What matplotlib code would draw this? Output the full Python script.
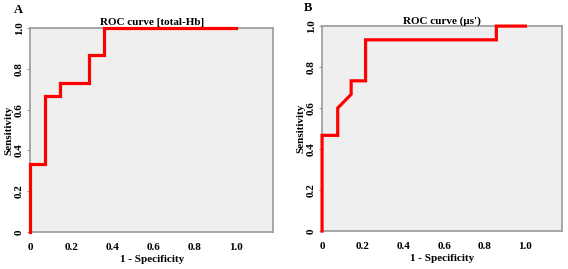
import matplotlib
matplotlib.use("Agg")
import matplotlib.pyplot as plt

plt.rcParams['font.family'] = ['Liberation Serif', 'DejaVu Serif']
plt.rcParams['font.weight'] = 'bold'

# ROC curve A : total-Hb
fprA = [0, 0, 0.071, 0.071, 0.143, 0.143, 0.286, 0.286, 0.357, 0.357, 1.0]
tprA = [0, 0.333, 0.333, 0.667, 0.667, 0.733, 0.733, 0.867, 0.867, 1.0, 1.0]

# ROC curve B : mu_s'
fprB = [0, 0, 0.077, 0.077, 0.143, 0.143, 0.214, 0.214, 0.857, 0.857, 1.0]
tprB = [0, 0.467, 0.467, 0.6, 0.667, 0.733, 0.733, 0.933, 0.933, 1.0, 1.0]

ticks = [0, 0.2, 0.4, 0.6, 0.8, 1.0]
tickLabels = ["0", "0.2", "0.4", "0.6", "0.8", "1.0"]

fig = plt.figure(figsize=(5.68, 2.69), dpi=100)
axA = fig.add_axes([0.053, 0.1375, 0.428, 0.758])
axB = fig.add_axes([0.567, 0.141, 0.4225, 0.762])

def dessine(ax, fpr, tpr, titre):
    ax.set_facecolor("#efefef")
    ax.plot(fpr, tpr, color="#ff0000", lw=2.3, solid_joinstyle="miter", clip_on=False, zorder=5)
    ax.set_xlim(0, 1.18)
    ax.set_ylim(0, 1.0)
    ax.set_xticks(ticks)
    ax.set_xticklabels(tickLabels)
    ax.set_yticks(ticks)
    ax.set_yticklabels(tickLabels, rotation=90, va="center")
    ax.tick_params(axis="x", length=0, labelsize=8, pad=8)
    ax.tick_params(axis="y", length=2.5, width=0.8, color="#9a9a9a", labelsize=8, pad=2)
    for s in ax.spines.values():
        s.set_color("#9a9a9a")
        s.set_linewidth(1.2)
    ax.set_title(titre, fontsize=8, fontweight="bold", pad=2)
    ax.set_xlabel("1 - Specificity", fontsize=8, fontweight="bold", labelpad=2)
    ax.set_ylabel("Sensitivity", fontsize=8, fontweight="bold", labelpad=1)

dessine(axA, fprA, tprA, "ROC curve [total-Hb]")
dessine(axB, fprB, tprB, "ROC curve (\u03bcs')")

fig.text(14/568, 1 - 10/269, "A", fontsize=9, fontweight="bold", va="center")
fig.text(304/568, 1 - 8/269, "B", fontsize=9, fontweight="bold", va="center")

fig.savefig("out.png", dpi=100)
